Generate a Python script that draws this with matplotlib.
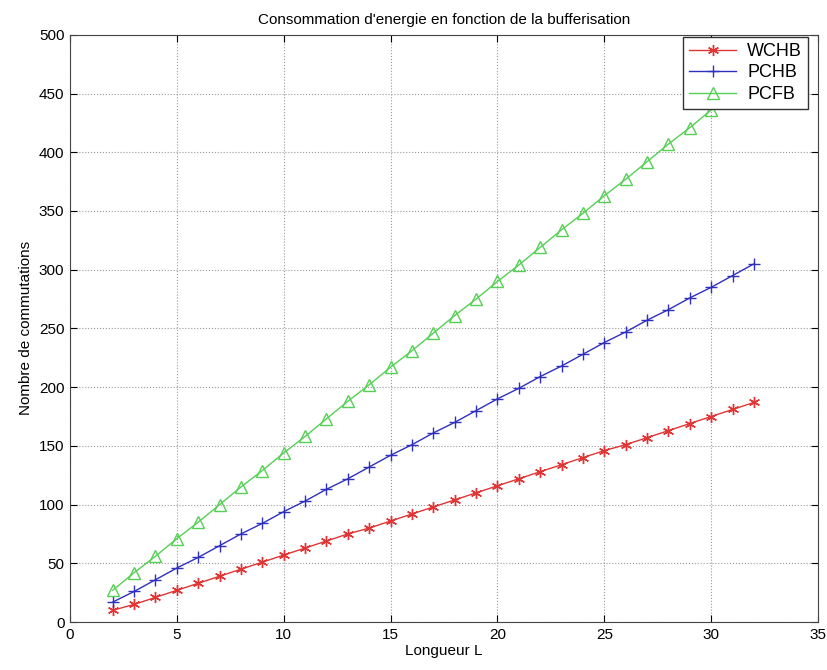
import matplotlib
matplotlib.use('Agg')
import matplotlib.pyplot as plt

plt.rcParams['font.family'] = ['Liberation Sans', 'DejaVu Sans']

# data
L = list(range(2, 33))
wchb = [10, 15, 21, 27, 33, 39, 45, 51, 57, 63, 69, 75, 80, 86, 92, 98,
        104, 110, 116, 122, 128, 134, 140, 146, 151, 157, 163, 169, 175, 181, 187]
pchb = [17, 26, 36, 46, 55, 65, 75, 84, 94, 103, 113, 122, 132, 142, 151, 161,
        170, 180, 190, 199, 209, 218, 228, 238, 247, 257, 266, 276, 285, 295, 305]
pcfb = [27, 42, 56, 71, 85, 100, 115, 129, 144, 158, 173, 188, 202, 217, 231, 246,
        261, 275, 290, 304, 319, 334, 348, 363, 377, 392, 407, 421, 436, 450, 465]

fig = plt.figure(figsize=(8.28, 6.70), dpi=100)
ax = fig.add_axes([0.0845, 0.0716, 0.9035, 0.8764])

ax.plot(L, wchb, color='#e03535', marker=(6, 2, 0), ms=8, mew=1, lw=1, label='WCHB')
ax.plot(L, pchb, color='#3030c0', marker='+', ms=9, mew=1, lw=1, label='PCHB')
ax.plot(L, pcfb, color='#55d055', marker='^', ms=8, mfc='none', mew=1, lw=1, label='PCFB')

ax.set_xlim(0, 35)
ax.set_ylim(0, 500)
ax.set_xticks(range(0, 36, 5))
ax.set_yticks(range(0, 501, 50))
ax.tick_params(direction='in', top=True, right=True, labelsize=11, length=5, pad=4)
ax.grid(True, linestyle=':', color='#999999', lw=0.8)
for s in ax.spines.values():
    s.set_color('#444444')

ax.set_title("Consommation d'energie en fonction de la bufferisation", fontsize=11, pad=8)
ax.set_xlabel('Longueur L', fontsize=11, labelpad=2)
ax.set_ylabel('Nombre de commutations', fontsize=11, labelpad=4)

leg = ax.legend(loc='upper right', bbox_to_anchor=(0.987, 0.997), fontsize=13,
                fancybox=False, framealpha=1, edgecolor='#333333',
                borderaxespad=0, handlelength=2.6, labelspacing=0.25,
                borderpad=0.35, handletextpad=0.6)
leg.get_frame().set_linewidth(1)

fig.savefig('out.png', dpi=100)
